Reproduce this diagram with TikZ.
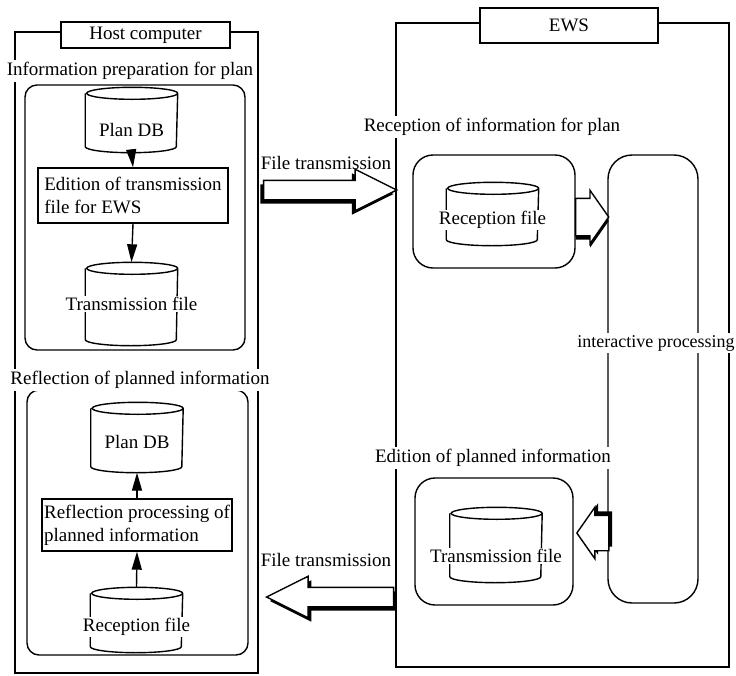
\documentclass[tikz,border=0pt]{standalone}
\usepackage{fontspec}
\setmainfont{Liberation Serif}
\usetikzlibrary{positioning}
\usetikzlibrary{shapes.arrows}
\usetikzlibrary{shadows}
\usetikzlibrary{arrows.meta}

% cylinder drawn round a named (empty) node
\newcommand{\dbdraw}[1]{%
  \draw[fill=white] ([yshift=-3pt]#1.north west) -- ([yshift=3pt]#1.south west)
    arc[start angle=180, end angle=360, x radius=22.75pt, y radius=3pt]
    -- ([yshift=-3pt]#1.north east)
    arc[start angle=0, end angle=360, x radius=22.75pt, y radius=3pt];}

\begin{document}
\begin{tikzpicture}[x=0.5pt, y=-0.5pt, line width=0.7pt,
    every node/.style={font=\fontsize{9.5}{11.5}\selectfont},
    frame/.style={draw, inner sep=0pt},
    titlebox/.style={draw, fill=white, inner sep=0pt},
    caption/.style={fill=white, inner sep=1pt},
    stage/.style={draw, rounded corners=#1, inner sep=0pt},
    dbbox/.style={inner sep=0pt, minimum width=45.5pt},
    dbtext/.style={fill=white, inner sep=0.5pt},
    proc/.style={draw, fill=white, align=left, inner sep=0pt},
    flow/.style={-{Triangle[length=9pt, width=5pt]}},
    fat/.style={draw, fill=white, single arrow, inner xsep=0pt, inner ysep=#1},
]
\useasboundingbox (0,0) rectangle (736,676);

% the two machines
\node[frame, minimum width=121.5pt, minimum height=320.5pt] (host) at (136.5,352.5) {};
\node[frame, minimum width=166.5pt, minimum height=322pt] (ews) at (562.5,345) {};

% host computer side
\node[stage=6pt, minimum width=110pt, minimum height=132.5pt] (prep) at (135,217.5) {};
\node[stage=6pt, minimum width=110.5pt, minimum height=132.5pt] (refl) at (137.5,522.5) {};

\node[dbbox, minimum height=32pt] (plandbA) at (131.5,120) {};
\dbdraw{plandbA}
\node[dbtext] (plandbAtxt) at (131.5,130) {Plan DB};
\node[proc, minimum width=95pt, minimum height=27.5pt] (editews) at (133,195.5) {Edition of transmission\\file for EWS};
\node[dbbox, minimum height=41pt] (sendA) at (131.5,304) {};
\dbdraw{sendA}
\node[dbtext] (sendAtxt) at (131.5,304) {Transmission file};
\draw[flow] (plandbA.south) -- (editews.north);
\draw[flow] (editews.south) -- (sendA.north);

\node[dbbox, minimum height=34.5pt] (plandbB) at (137,437.5) {};
\dbdraw{plandbB}
\node[dbtext] (plandbBtxt) at (137,442) {Plan DB};
\node[proc, minimum width=95pt, minimum height=26pt] (reflproc) at (137,525) {Reflection processing of\\planned information};
\node[dbbox, minimum height=32pt] (recvB) at (136.5,620) {};
\dbdraw{recvB}
\node[dbtext] (recvBtxt) at (136.5,627) {Reception file};
\draw[flow] (recvB.north) -- (reflproc.south);
\draw[flow] (reflproc.north) -- (plandbB.south);

% EWS side
\node[stage=10pt, minimum width=81pt, minimum height=56.5pt] (recv) at (494,211.5) {};
\node[stage=10pt, minimum width=79pt, minimum height=63.5pt] (edit) at (494,541.5) {};
\node[stage=12pt, minimum width=45pt, minimum height=224pt] (inter) at (653,379) {};

\node[dbbox, minimum height=31pt] (recvE) at (492.5,214) {};
\dbdraw{recvE}
\node[dbtext] (recvEtxt) at (492.5,220) {Reception file};
\node[dbbox, minimum height=37pt] (sendE) at (496,545) {};
\dbdraw{sendE}
\node[dbtext] (sendEtxt) at (496,556) {Transmission file};

\node[fat=9pt, single arrow head extend=4pt, minimum height=16.5pt, single arrow tip angle=110,
      anchor=tail, general shadow={fill=black, shadow yshift=-2pt}] (tointer) at (575,217) {};
\node[fat=8.5pt, single arrow head extend=4pt, shape border rotate=180, minimum height=16pt, single arrow tip angle=110,
      anchor=tip, general shadow={fill=black, shadow xshift=1.6pt, shadow yshift=2pt}] (frominter) at (576,533) {};

% file transmission between the machines
\node[fat=4.5pt, single arrow head extend=5.5pt, minimum height=66.5pt, single arrow tip angle=53,
      anchor=tail, general shadow={fill=black, shadow xshift=-1.6pt, shadow yshift=-2pt}] (sendup) at (263,190) {};
\node[fat=4.5pt, single arrow head extend=5.5pt, shape border rotate=180, minimum height=63.5pt, single arrow tip angle=53,
      anchor=tip, general shadow={fill=black, shadow xshift=1.6pt, shadow yshift=-2pt}] (senddown) at (265,597) {};
\node (sendupTxt) at (326,163) {File transmission};
\node (senddownTxt) at (326,560) {File transmission};

% titles and captions
\node[titlebox, minimum width=84.5pt, minimum height=13pt] (hostTitle) at (145.5,35) {Host computer};
\node[titlebox, minimum width=89pt, minimum height=17.5pt] (ewsTitle) at (569,25.5) {EWS};
\node[caption] (prepTxt) at (130,71) {Information preparation for plan};
\node[caption] (reflTxt) at (140,380) {Reflection of planned information};
\node[caption] (recvTxt) at (492,127) {Reception of information for plan};
\node[caption] (editTxt) at (493,458) {Edition of planned information};
\node[caption, font=\fontsize{9}{11}\selectfont] (interTxt) at (656,343) {interactive processing};
\end{tikzpicture}
\end{document}
